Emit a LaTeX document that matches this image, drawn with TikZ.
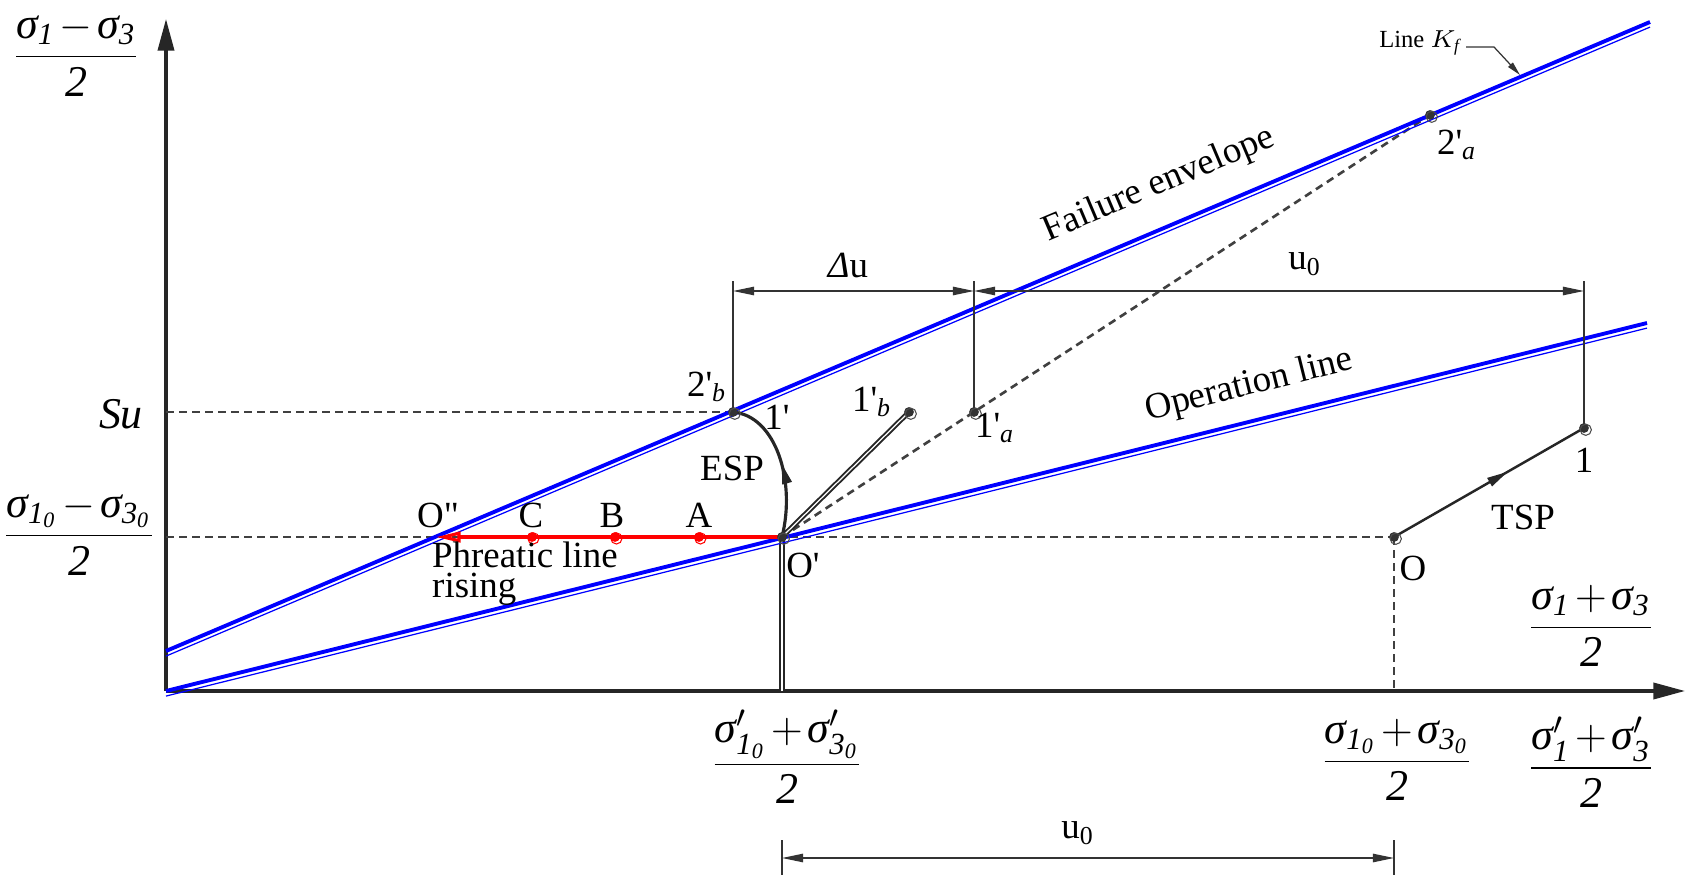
\documentclass[tikz,border=0pt]{standalone}
\usepackage{amsmath}
\usepackage{fontspec}
\setmainfont{Liberation Serif}
\usetikzlibrary{arrows.meta,decorations.markings,positioning}
\newcommand\sig{\mbox{\itshape σ}}
\newcommand\pr{\textquotesingle}
\newcommand\mns{\mkern2mu{-}\mkern2mu}
\newcommand\pls{\mkern2mu{+}\mkern2mu}
\newcommand\halfof[1]{$\dfrac{#1}{\mathit{2}}$}

\begin{document}
\begin{tikzpicture}[
    every node/.style={font=\fontsize{10.5}{12}\selectfont, inner sep=1pt},
    axis/.style={draw=black!85, line width=0.9pt, -{Triangle[length=9pt,width=4.6pt]}},
    envline/.style={draw=blue, line width=1.1pt},
    envthin/.style={draw=blue, line width=0.35pt},
    guide/.style={draw=black!75, line width=0.75pt, dash pattern=on 2.2pt off 1.5pt},
    dline/.style={draw=black!85, double=white, double distance=0.35pt, line width=0.55pt},
    ext/.style={draw=black!80, line width=0.35pt},
    dim/.style={ext, {Triangle[length=6pt,width=2.4pt]}-{Triangle[length=6pt,width=2.4pt]}},
    midarrow/.style={postaction={decorate}, decoration={markings,
        mark=at position #1 with {\arrow{Triangle[length=6pt,width=2.6pt]}}}},
    midarrow/.default=0.5,
    redpath/.style={draw=red, line width=0.9pt, -{Triangle[open,length=7pt,width=3pt]}},
    frac/.style={font=\fontsize{12.5}{14}\selectfont}]
\useasboundingbox (-1.66,-1.89) rectangle (15.25,6.91);

% points
\coordinate (o) at (0,0);
\coordinate (ytop) at (0,6.72);
\coordinate (xend) at (15.19,0);
\coordinate (fe0) at (0,0.40);
\coordinate (fe1) at (14.84,6.69);
\coordinate (op1) at (14.81,3.68);
\coordinate (Op) at (6.16,1.54);
\coordinate (O) at (12.28,1.54);
\coordinate (one) at (14.18,2.63);
\coordinate (twob) at (5.67,2.79);
\coordinate (oneb) at (7.43,2.79);
\coordinate (onea) at (8.08,2.79);
\coordinate (twoa) at (12.64,5.76);
\coordinate (Opp) at (2.70,1.54);
\coordinate (ptA) at (5.33,1.54);
\coordinate (ptB) at (4.49,1.54);
\coordinate (ptC) at (3.66,1.54);
\coordinate (su) at (0,2.79);
\coordinate (s0) at (0,1.54);
\coordinate (Opx) at (6.16,0);
\coordinate (Ox) at (12.28,0);
\coordinate (dl) at (5.67,4.00);
\coordinate (dm) at (8.08,4.00);
\coordinate (dr) at (14.18,4.00);
\coordinate (lu) at (6.16,-1.67);
\coordinate (ru) at (12.28,-1.67);

% axes
\draw[axis] (o) -- (ytop);
\draw[axis] (o) -- (xend);

% guide lines
\draw[guide] (su) -- (twob);
\draw[guide] (s0) -- (O);
\draw[guide] (O) -- (Ox);
\draw[guide] (Op) -- (twoa);
\draw[dline] (Op) -- (Opx);

% envelope and operation line
\draw[envline] (fe0) -- (fe1);
\draw[envthin] ([yshift=-1.45pt]fe0) -- ([yshift=-1.45pt]fe1);
\draw[envline] (o) -- (op1);
\draw[envthin] ([yshift=-1.45pt]o) -- ([yshift=-1.45pt]op1);

% stress paths
\draw[redpath] (Op) -- (Opp);
\draw[dline] (Op) -- (oneb);
\draw[draw=black!85, line width=0.9pt, midarrow=0.5] (Op) .. controls (6.30,2.10) and (6.10,2.75) .. (twob);
\draw[draw=black!85, line width=0.7pt, midarrow=0.6] (O) -- (one);

% dimensions
\draw[ext] (twob) -- ([yshift=0.1cm]dl);
\draw[ext] (onea) -- ([yshift=0.1cm]dm);
\draw[ext] (one) -- ([yshift=0.1cm]dr);
\draw[dim] (dl) -- (dm);
\draw[dim] (dm) -- (dr);
\draw[ext] ([yshift=0.18cm]lu) -- ([yshift=-0.17cm]lu);
\draw[ext] ([yshift=0.18cm]ru) -- ([yshift=-0.17cm]ru);
\draw[dim] (lu) -- (ru);

\foreach \p in {Op,O,one,twob,oneb,onea,twoa} {
    \fill[black!80] (\p) circle (1.4pt);
    \draw[black!70, line width=0.3pt] ([shift={(0.5pt,-0.5pt)}]\p) circle (1.6pt);
}
\foreach \p in {ptA,ptB,ptC} {
    \fill[red] (\p) circle (1.4pt);
    \draw[red, line width=0.3pt] ([shift={(0.4pt,-0.4pt)}]\p) circle (1.6pt);
}

% labels
\node (lOp) at (6.37,1.26) {O\pr};
\node (lO) at (12.47,1.23) {O};
\node (lone) at (14.18,2.31) {1};
\node (ltsp) at (13.57,1.74) {TSP};
\node (lesp) at (5.66,2.23) {ESP};
\node (lonep) at (6.11,2.74) {1\pr};
\node (ltwob) at (5.41,3.04) {2\pr$_{\mathit{b}}$};
\node (loneb) at (7.06,2.89) {1\pr$_{\mathit{b}}$};
\node (lonea) at (8.29,2.63) {1\pr$_{\mathit{a}}$};
\node (ltwoa) at (12.91,5.46) {2\pr$_{\mathit{a}}$};
\node (ldu) at (6.82,4.26) {\textit{Δ}u};
\node (lu0) at (11.39,4.27) {u$_{\mathrm{0}}$};
\node (lu0b) at (9.12,-1.42) {u$_{\mathrm{0}}$};
\node (lOpp) at (2.72,1.76) {O\textquotedbl};
\node (lC) at (3.65,1.76) {C};
\node (lB) at (4.46,1.76) {B};
\node (lA) at (5.33,1.76) {A};
\node[anchor=west, align=left, font=\fontsize{10.5}{8.6}\selectfont] (lrise) at (2.62,1.17) {Phreatic line\\rising};
\node[font=\fontsize{12.5}{14}\selectfont\itshape] (lsu) at (-0.45,2.77) {Su};
\node[rotate=22.97] (lfail) at (9.93,5.06) {Failure envelope};
\node[rotate=13.96] (loper) at (10.83,3.05) {Operation line};
\node[font=\fontsize{7}{8}\selectfont] (lkf) at (12.54,6.48) {Line $K_{\mathit{f}}$};
\coordinate (kf1) at (13.00,6.44);
\coordinate (kf2) at (13.28,6.44);
\coordinate (kf3) at (13.54,6.16);
\draw[ext, -{Triangle[length=4pt,width=1.8pt]}] (kf1) -- (kf2) -- (kf3);

\node[frac] (fy) at (-0.90,6.36) {\halfof{\sig_{\mathit{1}}\mns\sig_{\mathit{3}}}};
\node[frac] (fy0) at (-0.87,1.57) {\halfof{\sig_{\mathit{1}_{\mathit{0}}}\mns\sig_{\mathit{3}_{\mathit{0}}}}};
\node[frac] (fx) at (14.25,0.65) {\halfof{\sig_{\mathit{1}}\pls\sig_{\mathit{3}}}};
\node[frac] (fxp) at (14.25,-0.71) {\halfof{\sig'_{\mathit{1}}\pls\sig'_{\mathit{3}}}};
\node[frac] (fx0) at (12.31,-0.69) {\halfof{\sig_{\mathit{1}_{\mathit{0}}}\pls\sig_{\mathit{3}_{\mathit{0}}}}};
\node[frac] (fxp0) at (6.21,-0.66) {\halfof{\sig'_{\mathit{1}_{\mathit{0}}}\pls\sig'_{\mathit{3}_{\mathit{0}}}}};
\end{tikzpicture}
\end{document}
